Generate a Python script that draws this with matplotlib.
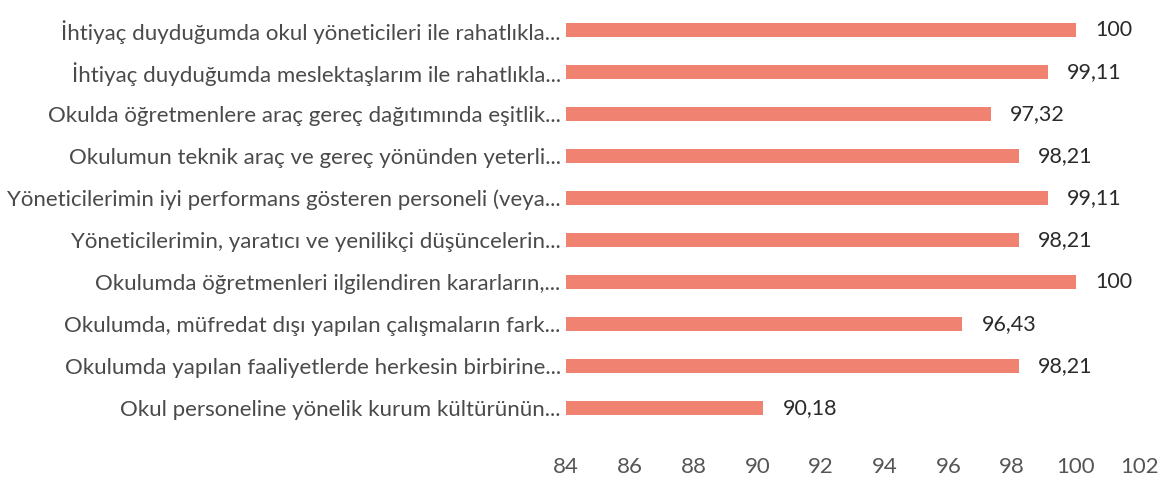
import matplotlib.pyplot as plt

labels = [
    "İhtiyaç duyduğumda okul yöneticileri ile rahatlıkla...",
    "İhtiyaç duyduğumda meslektaşlarım ile rahatlıkla...",
    "Okulda öğretmenlere araç gereç dağıtımında eşitlik...",
    "Okulumun teknik araç ve gereç yönünden yeterli...",
    "Yöneticilerimin iyi performans gösteren personeli (veya...",
    "Yöneticilerimin, yaratıcı ve yenilikçi düşüncelerin...",
    "Okulumda öğretmenleri ilgilendiren kararların,...",
    "Okulumda, müfredat dışı yapılan çalışmaların fark...",
    "Okulumda yapılan faaliyetlerde herkesin birbirine...",
    "Okul personeline yönelik kurum kültürünün...",
]
values = [100, 99.11, 97.32, 98.21, 99.11, 98.21, 100, 96.43, 98.21, 90.18]
xticks = [84, 86, 88, 90, 92, 94, 96, 98, 100, 102]

plt.rcParams['font.family'] = ['Lato', 'DejaVu Sans']

fig = plt.figure(figsize=(11.7, 4.88), dpi=100)
ax = fig.add_axes([0.484, 0.121, 0.49, 0.861])

ypos = list(range(len(labels)))
bars = ax.barh(ypos, [v - 84 for v in values], left=84, height=0.32, color='#EF8270')
ax.bar_label(bars, labels=[("%g" % v).replace('.', ',') for v in values],
             padding=14, fontsize=15.5, color='#2a2a2a')

ax.set_xlim(84, 102)
ax.set_ylim(len(labels) - 0.5, -0.5)
ax.set_xticks(xticks)
ax.set_yticks(ypos)
ax.set_yticklabels(labels, fontsize=16, color='#4a4a4a')
ax.tick_params(axis='x', length=0, pad=20, labelsize=16, labelcolor='#555555')
ax.tick_params(axis='y', length=0, pad=4)
for s in ax.spines.values():
    s.set_visible(False)

fig.savefig("out.png", dpi=100)
